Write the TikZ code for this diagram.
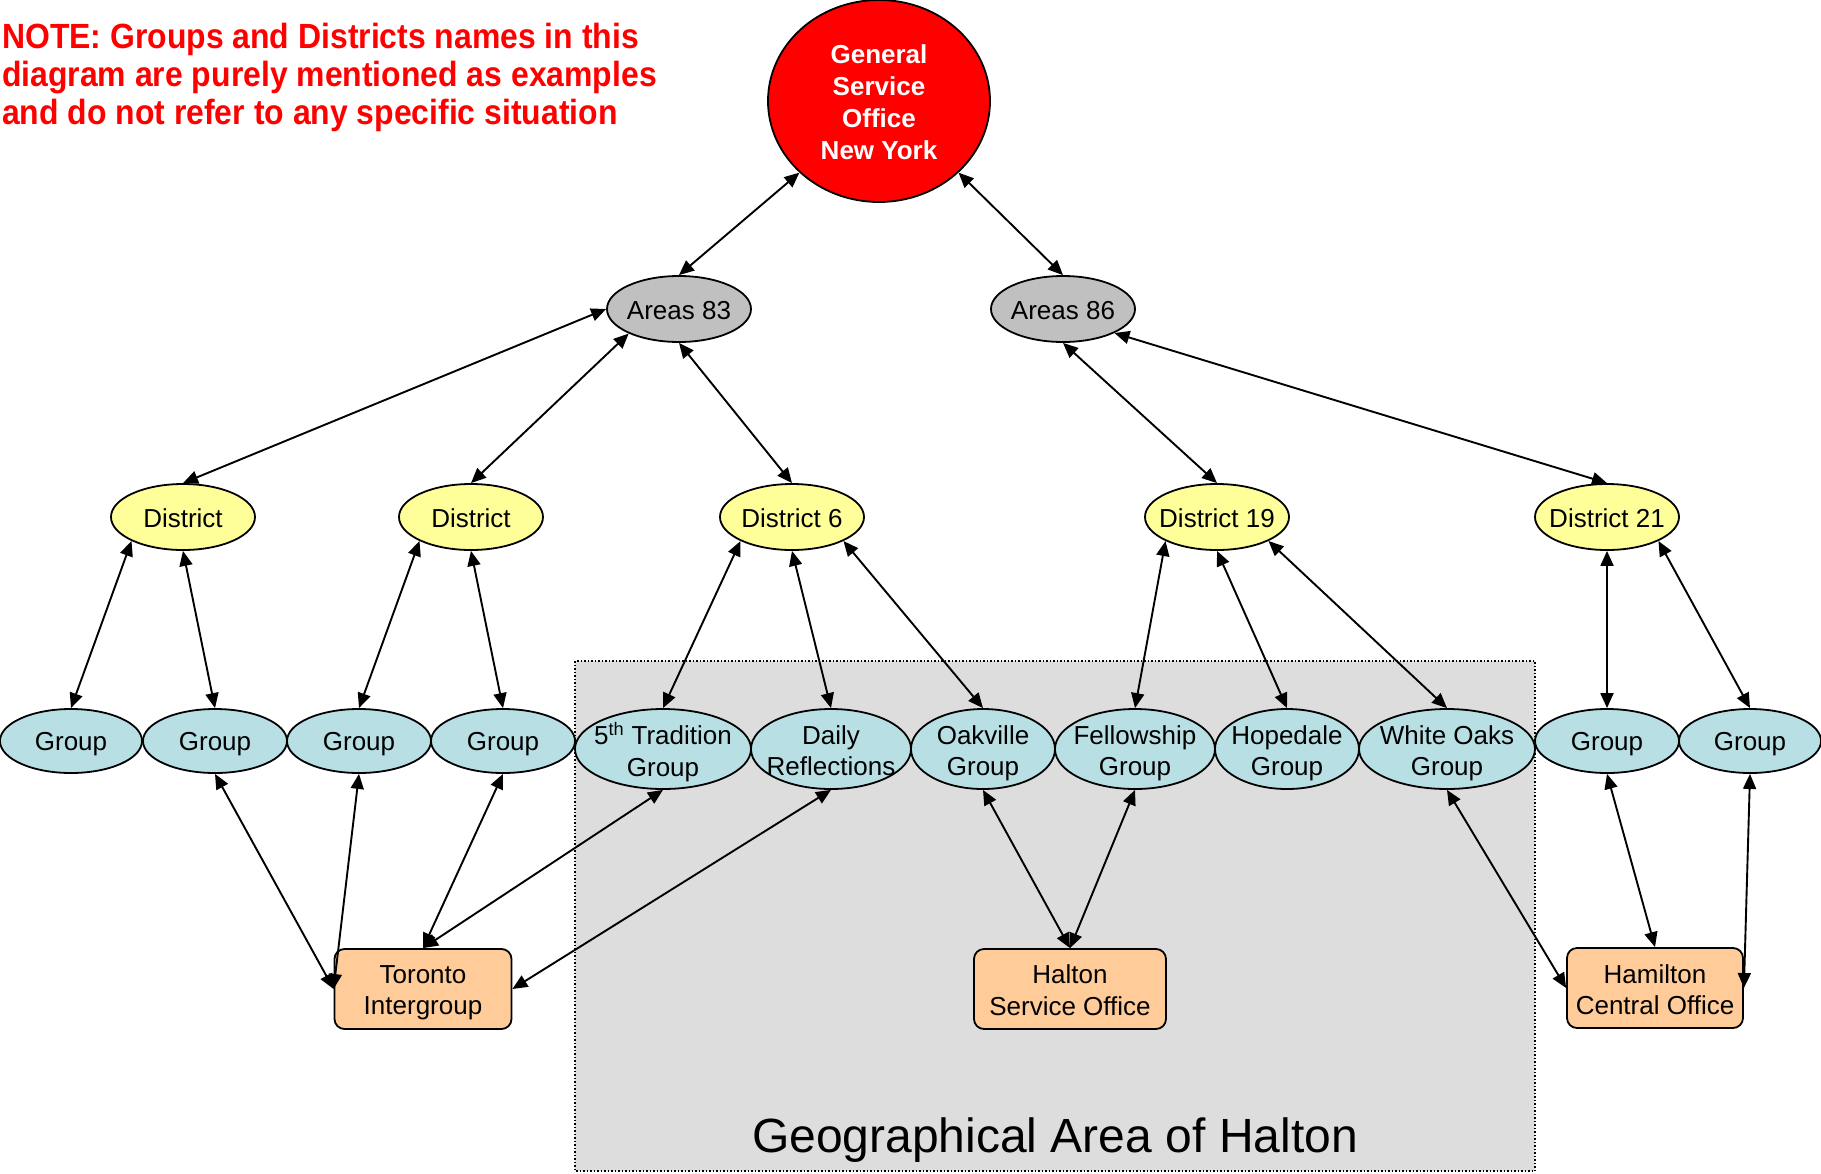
\documentclass[tikz,border=0pt]{standalone}
\usepackage{fontspec}
\setmainfont{Liberation Sans}
\newfontfamily\notefont[FakeStretch=0.912]{Liberation Sans}
\usetikzlibrary{shapes.geometric,arrows.meta}
\definecolor{gsored}{HTML}{FF0000}
\definecolor{areagray}{HTML}{C0C0C0}
\definecolor{distyellow}{HTML}{FFFF99}
\definecolor{grpblue}{HTML}{B8E0E4}
\definecolor{officepeach}{HTML}{FFCC99}
\definecolor{regiongray}{HTML}{DDDDDD}
\begin{document}
\begin{tikzpicture}[x=1pt,y=-1pt,
  ell/.style={ellipse, draw, line width=1.8pt, inner sep=0pt},
  area/.style={ell, fill=areagray, minimum width=144pt, minimum height=66pt},
  dist/.style={ell, fill=distyellow, minimum width=144pt, minimum height=66pt},
  grp/.style={ell, fill=grpblue, minimum height=64pt},
  grptwo/.style={ell, fill=grpblue, minimum height=80pt},
  lbl/.style={font=\fontsize{26}{31.5}\selectfont, align=center, inner sep=0pt},
  lblone/.style={lbl, yshift=-1.5pt},
  lblgrp/.style={lbl, yshift=-2.8pt},
  lbltwo/.style={lbl, yshift=-4.5pt},
  office/.style={draw, line width=1.8pt, rounded corners=10pt, fill=officepeach, minimum height=80pt, inner sep=0pt},
  note/.style={text=gsored, font=\notefont\bfseries\fontsize{35}{39}\selectfont, inner sep=0pt},
  conn/.style={line width=1.9pt, {Triangle[length=15pt,width=13pt]}-{Triangle[length=15pt,width=13pt]}}
]
\useasboundingbox[fill=white] (0,0) rectangle (1821,1173);
% region
\draw[fill=regiongray, line width=1.5pt, dotted] (575,661) rectangle (1535,1171);
\node[anchor=base, font=\fontsize{48}{56}\selectfont, inner sep=0pt] (geo) at (1055,1152) {Geographical Area of Halton};
% note
\node[note, anchor=base west] (note1) at (2,48) {NOTE: Groups and Districts names in this};
\node[note, anchor=base west] (note2) at (2,86) {diagram are purely mentioned as examples};
\node[note, anchor=base west] (note3) at (2,124) {and do not refer to any specific situation};
% top
\node[ell, fill=gsored, minimum width=222pt, minimum height=202pt,
  label={[lbl, yshift=-1.2pt, text=white, font=\bfseries\fontsize{26}{32}\selectfont]center:General\\Service\\Office\\New York}] (gso) at (879,101) {};
\node[area, label={[lblone]center:Areas 83}] (a83) at (679,309) {};
\node[area, label={[lblone]center:Areas 86}] (a86) at (1063,309) {};
% districts
\node[dist, label={[lblone]center:District}] (d1) at (183,517) {};
\node[dist, label={[lblone]center:District}] (d2) at (471,517) {};
\node[dist, label={[lblone]center:District 6}] (d6) at (792,517) {};
\node[dist, label={[lblone]center:District 19}] (d19) at (1217,517) {};
\node[dist, label={[lblone]center:District 21}] (d21) at (1607,517) {};
% groups
\node[grp, minimum width=142pt, label={[lblgrp]center:Group}] (g1) at (71,741) {};
\node[grp, minimum width=144pt, label={[lblgrp]center:Group}] (g2) at (215,741) {};
\node[grp, minimum width=144pt, label={[lblgrp]center:Group}] (g3) at (359,741) {};
\node[grp, minimum width=144pt, label={[lblgrp]center:Group}] (g4) at (503,741) {};
\node[grptwo, minimum width=176pt, label={[lbl, yshift=-3pt]center:5\textsuperscript{th} Tradition\\Group}] (t5) at (663,749) {};
\node[grptwo, minimum width=160pt, label={[lbl, yshift=-1.5pt]center:Daily\\Reflections}] (dr) at (831,749) {};
\node[grptwo, minimum width=144pt, label={[lbltwo]center:Oakville\\Group}] (oak) at (983,749) {};
\node[grptwo, minimum width=160pt, label={[lbltwo]center:Fellowship\\Group}] (fel) at (1135,749) {};
\node[grptwo, minimum width=144pt, label={[lbltwo]center:Hopedale\\Group}] (hop) at (1287,749) {};
\node[grptwo, minimum width=176pt, label={[lbltwo]center:White Oaks\\Group}] (wo) at (1447,749) {};
\node[grp, minimum width=144pt, label={[lblgrp]center:Group}] (g5) at (1607,741) {};
\node[grp, minimum width=142pt, label={[lblgrp]center:Group}] (g6) at (1750,741) {};
% offices
\node[office, minimum width=177pt, label={[lbl, yshift=-3.5pt]center:Toronto\\Intergroup}] (tor) at (423,989) {};
\node[office, minimum width=192pt, label={[lbl, yshift=-1pt]center:Halton\\Service Office}] (hal) at (1070,989) {};
\node[office, minimum width=176pt, label={[lbl, yshift=-1.5pt]center:Hamilton\\Central Office}] (ham) at (1655,988) {};
% connectors top
\draw[conn] (gso.222) -- (a83.north);
\draw[conn] (gso.318) -- (a86.north);
\draw[conn] (a83.west) -- (d1.north);
\draw[conn] (a83.206) -- (d2.north);
\draw[conn] (a83.south) -- (d6.north);
\draw[conn] (a86.south) -- (d19.north);
\draw[conn] (a86.335) -- (d21.north);
% districts to groups
\draw[conn] (d1.205) -- (g1.north);
\draw[conn] (d1.south) -- (g2.north);
\draw[conn] (d2.205) -- (g3.north);
\draw[conn] (d2.south) -- (g4.north);
\draw[conn] (d6.205) -- (t5.north);
\draw[conn] (d6.south) -- (dr.north);
\draw[conn] (d6.335) -- (oak.north);
\draw[conn] (d19.205) -- (fel.north);
\draw[conn] (d19.south) -- (hop.north);
\draw[conn] (d19.335) -- (wo.north);
\draw[conn] (d21.south) -- (g5.north);
\draw[conn] (d21.335) -- (g6.north);
% groups to offices
\draw[conn] (g2.south) -- (tor.west);
\draw[conn] (g3.south) -- (tor.west);
\draw[conn] (g4.south) -- (tor.north);
\draw[conn] (t5.south) -- (tor.north);
\draw[conn] (dr.south) -- (tor.east);
\draw[conn] (oak.south) -- (hal.north);
\draw[conn] (fel.south) -- (hal.north);
\draw[conn] (wo.south) -- (ham.west);
\draw[conn] (g5.south) -- (ham.north);
\draw[conn] (g6.south) -- (ham.east);
\end{tikzpicture}
\end{document}
